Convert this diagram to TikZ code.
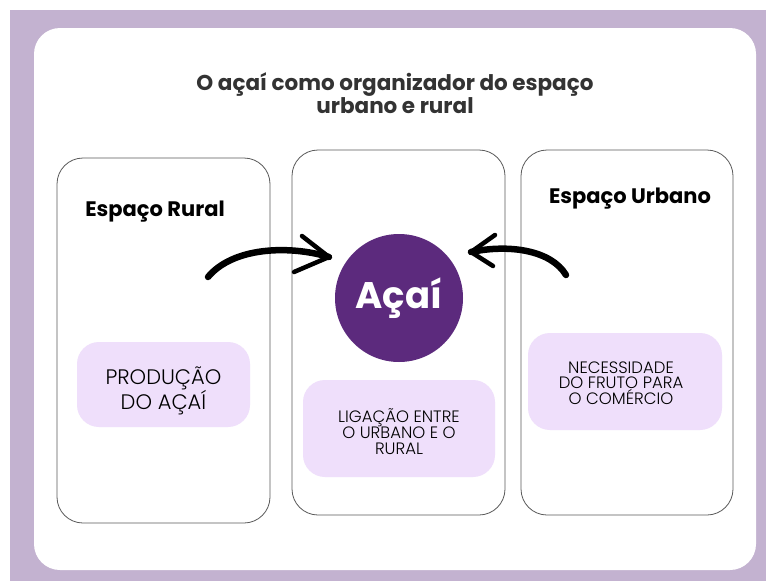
\documentclass[tikz,border=0pt]{standalone}
\usepackage{fontspec}
\setmainfont{Poppins}
\newfontfamily\boxfont{Poppins Light}
\usepackage{tikz}
\usetikzlibrary{calc}
\usetikzlibrary{shapes}
\definecolor{framepurple}{HTML}{C3B2D0}
\definecolor{acaipurple}{HTML}{5C2A7D}
\definecolor{boxpink}{HTML}{EFDFFB}
\definecolor{titlegray}{HTML}{333333}
\tikzset{
  panel/.style={draw=black!65, line width=0.8pt, rounded corners=26pt, fill=white, inner sep=0pt},
  pinkbox/.style={fill=boxpink, draw=none, rounded corners=22pt, inner sep=0pt},
  paneltitle/.style={font=\bfseries\fontsize{21}{23}\selectfont, text=black},
  boxtext/.style n args={2}{font=\boxfont\fontsize{#1}{#2}\selectfont, align=center, text=black, text depth=0pt},
  brush/.style={line width=6.5pt, line cap=round, draw=black},
  brushhead/.style={line width=4.5pt, line cap=round, line join=round, draw=black}
}
\newcommand{\arrowhead}[3]{\draw[brushhead] ($(#1)+(#2)$) -- (#1) -- ($(#1)+(#3)$);}
\begin{document}
\begin{tikzpicture}[x=1pt,y=-1pt]
        \useasboundingbox (0,0) rectangle (766,581);
        % frame
        \fill[white] (0,0) rectangle (766,581);
        \fill[framepurple] (10,10) rectangle (766,581);
        \fill[white, rounded corners=26pt] (34,28) rectangle (756,570);
        % title
        \node[font=\bfseries\fontsize{21.5}{16}\selectfont, text=titlegray, align=center] (title) at (395,93) {O açaí como organizador do espaço\\urbano e rural};
        % panels
        \node[panel, minimum width=213pt, minimum height=365pt] (rural) at (163.5,340.5) {};
        \node[panel, minimum width=213pt, minimum height=365pt] (middle) at (398.5,332.5) {};
        \node[panel, minimum width=212pt, minimum height=365pt] (urbano) at (627,332.5) {};
        % panel titles
        \node[paneltitle] (ruraltitle) at (155,212) {Espaço Rural};
        \node[paneltitle] (urbanotitle) at (630,199) {Espaço Urbano};
        % center circle
        \node[circle, fill=acaipurple, minimum size=128pt, inner sep=0pt, text=white, font=\bfseries\fontsize{37}{37}\selectfont] (acai) at (399,298) {Açaí};
        % pink boxes
        \node[pinkbox, minimum width=173pt, minimum height=85pt] (producao) at (163.5,384.5) {};
        \node[pinkbox, minimum width=192pt, minimum height=97pt] (ligacao) at (399,428.5) {};
        \node[pinkbox, minimum width=194pt, minimum height=97pt] (necessidade) at (625,381.5) {};
        \node[boxtext={21}{17.5}] (producaotext) at (163.5,388) {PRODUÇÃO\\DO AÇAÍ};
        \node[boxtext={16.5}{16}] (ligacaotext) at (399,432) {LIGAÇÃO ENTRE\\O URBANO E O\\RURAL};
        \node[boxtext={16.5}{15.5}] (necessidadetext) at (621,383) {NECESSIDADE\\DO FRUTO PARA\\O COMÉRCIO};
        % arrows
        \coordinate (ruraltail) at (208,277);
        \coordinate (ruraltip) at (329,257);
        \coordinate (urbanotail) at (566,275);
        \coordinate (urbanotip) at (471,252);
        \draw[brush] (ruraltail) .. controls +(25,-30) and +(-40,-12) .. (ruraltip);
        \arrowhead{ruraltip}{-27,-21}{-35,15}
        \draw[brush] (urbanotail) .. controls +(-15,-25) and +(38,-8) .. (urbanotip);
        \arrowhead{urbanotip}{24,-17}{22,14}
    \end{tikzpicture}
\end{document}
